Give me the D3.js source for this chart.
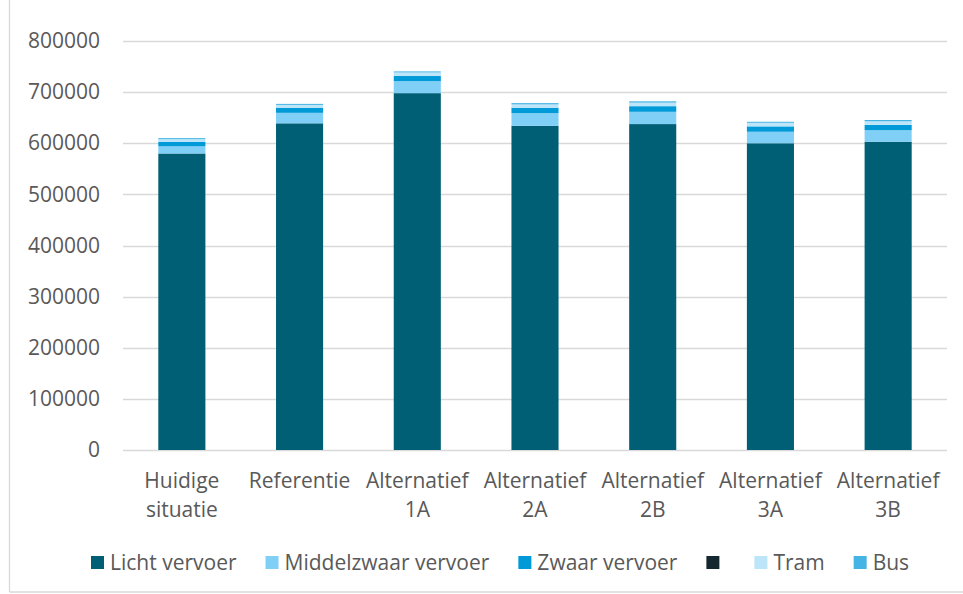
<!DOCTYPE html>
<html>
<head>
<meta charset="utf-8">
<script src="https://cdn.jsdelivr.net/npm/d3@7"></script>
<style>
  html, body { margin: 0; padding: 0; background: #fff; }
  svg { display: block; font-family: "Open Sans", sans-serif; }
</style>
</head>
<body>
<svg id="chart" width="963" height="594"></svg>
<script>
// Categories (each label split over up to two lines)
const categories = ["Huidige situatie", "Referentie", "Alternatief 1A", "Alternatief 2A", "Alternatief 2B", "Alternatief 3A", "Alternatief 3B"];
const categoryLines = [["Huidige", "situatie"], ["Referentie"], ["Alternatief", "1A"], ["Alternatief", "2A"], ["Alternatief", "2B"], ["Alternatief", "3A"], ["Alternatief", "3B"]];

// Series values, bottom to top of each stack
const lichtVervoer      = [580000, 639000, 698000, 634000, 637500, 600000, 603000];
const middelzwaarVervoer = [14000, 20500, 23500, 25000, 24000, 22500, 22500];
const zwaarVervoer      = [8500, 10000, 10000, 10500, 11000, 10500, 10500];
const onbenoemd         = [0, 0, 0, 0, 0, 0, 0];
const tram              = [5500, 5500, 7000, 6500, 7000, 7000, 7000];
const bus               = [2000, 2000, 2000, 2500, 2500, 2000, 2500];

const seriesNames = ["Licht vervoer", "Middelzwaar vervoer", "Zwaar vervoer", "", "Tram", "Bus"];
const seriesValues = [lichtVervoer, middelzwaarVervoer, zwaarVervoer, onbenoemd, tram, bus];
const seriesColors = ["#005f75", "#80cff6", "#009ad9", "#15272f", "#bde5f9", "#45b4e4"];

const yTicks = [0, 100000, 200000, 300000, 400000, 500000, 600000, 700000, 800000];

const svg = d3.select("#chart");
const textColor = "#595959";
const gridColor = "#d9d9d9";

// Chart frame
svg.append("line").attr("x1", 9.5).attr("x2", 9.5).attr("y1", 0).attr("y2", 592)
  .attr("stroke", gridColor).attr("stroke-width", 1.3);
svg.append("line").attr("x1", 9.5).attr("x2", 963).attr("y1", 592).attr("y2", 592)
  .attr("stroke", gridColor).attr("stroke-width", 1.3);

const plot = { left: 123, right: 947, top: 41, bottom: 450 };

const x = d3.scaleBand().domain(categories).range([plot.left, plot.right]).paddingInner(0.6).paddingOuter(0.3);
const y = d3.scaleLinear().domain([0, 800000]).range([plot.bottom, plot.top]);

// Gridlines
svg.append("g").selectAll("line").data(yTicks).join("line")
  .attr("x1", plot.left).attr("x2", plot.right)
  .attr("y1", d => Math.round(y(d)) + 0.5).attr("y2", d => Math.round(y(d)) + 0.5)
  .attr("stroke", gridColor).attr("stroke-width", 1.3);

// Y axis labels
const yAxis = d3.axisLeft(y).tickValues(yTicks).tickSize(0).tickPadding(0).tickFormat(d3.format("d"));
const yg = svg.append("g").attr("transform", "translate(100,0)").call(yAxis);
yg.select(".domain").remove();
yg.selectAll("text").attr("fill", textColor).style("font-size", "21px").style("font-family", "'Open Sans', sans-serif");

// Stacked bars
const rows = categories.map((c, i) => {
  const r = { category: c };
  seriesNames.forEach((s, k) => { r["s" + k] = seriesValues[k][i]; });
  return r;
});
const keys = seriesNames.map((s, k) => "s" + k);
const stacked = d3.stack().keys(keys)(rows);

svg.append("g").selectAll("g").data(stacked).join("g")
  .attr("fill", (d, k) => seriesColors[k])
  .selectAll("rect").data(d => d).join("rect")
  .attr("x", d => x(d.data.category))
  .attr("width", x.bandwidth())
  .attr("y", d => y(d[1]))
  .attr("height", d => y(d[0]) - y(d[1]));

// Category labels
const xg = svg.append("g");
categories.forEach((c, i) => {
  const t = xg.append("text")
    .attr("x", x(c) + x.bandwidth() / 2)
    .attr("y", 488)
    .attr("text-anchor", "middle")
    .attr("fill", textColor)
    .style("font-size", "21px");
  categoryLines[i].forEach((line, j) => {
    t.append("tspan").attr("x", x(c) + x.bandwidth() / 2).attr("dy", j === 0 ? 0 : 29).text(line);
  });
});

// Legend
const legend = svg.append("g");
let lx = 91;
const ly = 563;
seriesNames.forEach((name, k) => {
  legend.append("rect").attr("x", lx).attr("y", ly - 7).attr("width", 13).attr("height", 13)
    .attr("fill", seriesColors[k]);
  const t = legend.append("text").attr("x", lx + 19).attr("y", ly).attr("dy", "0.35em")
    .attr("fill", textColor).style("font-size", "21px").text(name);
  const w = name ? t.node().getComputedTextLength() : 0;
  lx = lx + 19 + w + 29;
});
</script>
</body>
</html>
